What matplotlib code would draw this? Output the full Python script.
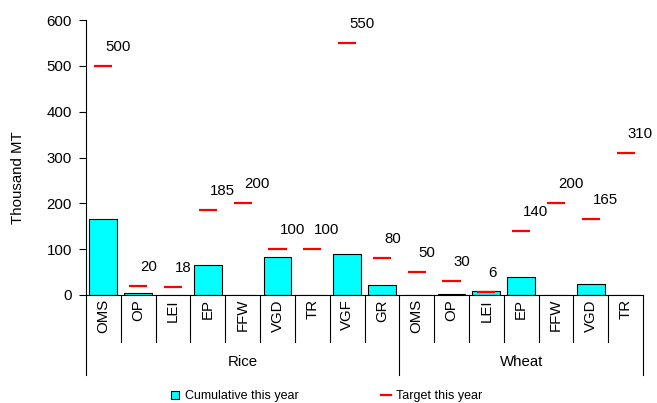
import numpy as np
import matplotlib
matplotlib.use('Agg')
import matplotlib.pyplot as plt
from matplotlib.lines import Line2D
from matplotlib.transforms import blended_transform_factory

plt.rcParams['font.family'] = ['Liberation Sans', 'DejaVu Sans']

# data
rice_cats = ['OMS', 'OP', 'LEI', 'EP', 'FFW', 'VGD', 'TR', 'VGF', 'GR']
wheat_cats = ['OMS', 'OP', 'LEI', 'EP', 'FFW', 'VGD', 'TR']
rice_cum = [166, 5, 0, 65, 0, 84, 0, 89, 21]
wheat_cum = [0, 2, 8, 39, 0, 23, 0]
rice_target = [500, 20, 18, 185, 200, 100, 100, 550, 80]
wheat_target = [50, 30, 6, 140, 200, 165, 310]
groups = ['Rice', 'Wheat']

cats = rice_cats + wheat_cats
cum = rice_cum + wheat_cum
target = rice_target + wheat_target
x = np.arange(len(cats))

fig = plt.figure(figsize=(6.57, 4.03), dpi=100)
ax = fig.add_axes([86/657, 1-295/403, (643-86)/657, (295-20)/403])

fs = 10.8
ax.bar(x, cum, width=0.8, color='#00FFFF', edgecolor='black', linewidth=0.8, zorder=2)
ax.hlines(target, x-0.26, x+0.26, colors='#FF0000', linewidth=1.6, zorder=3)
for xi, t in zip(x, target):
    ax.annotate(str(t), (xi, t), xytext=(2, 19), textcoords='offset pixels',
                ha='left', va='center', fontsize=fs)

ax.set_xlim(-0.5, len(cats)-0.5)
ax.set_ylim(0, 600)
ax.set_yticks(range(0, 601, 100))
ax.tick_params(axis='y', labelsize=fs, length=5, width=0.8, pad=5)
ax.set_xticks([])
for s in ['top', 'right']:
    ax.spines[s].set_visible(False)
ax.spines['left'].set_linewidth(0.8)
ax.spines['bottom'].set_linewidth(0.8)

# category table under the axis
tr = blended_transform_factory(ax.transData, fig.transFigure)
y_ax = 1-295/403
for i in range(len(cats)+1):
    xe = i - 0.5
    if i in (0, len(rice_cats), len(cats)):
        y_end = 1-375/403
    else:
        y_end = 1-342/403
    ax.add_line(Line2D([xe, xe], [y_ax, y_end], transform=tr, color='black',
                       linewidth=0.8, clip_on=False))
for xi, c in zip(x, cats):
    ax.text(xi, 1-299/403, c, transform=tr, rotation=90, ha='center', va='top', fontsize=fs)
ax.text((len(rice_cats)-1)/2, 1-362/403, groups[0], transform=tr, ha='center', va='center', fontsize=fs)
ax.text(len(rice_cats) + (len(wheat_cats)-1)/2, 1-362/403, groups[1], transform=tr,
        ha='center', va='center', fontsize=fs)

fig.text(18.5/657, 1-178/403, 'Thousand MT', rotation=90, ha='center', va='center', fontsize=fs)

handles = [Line2D([], [], marker='s', linestyle='none', markersize=5.5,
                  markerfacecolor='#00FFFF', markeredgecolor='black', markeredgewidth=0.8),
           Line2D([], [], color='#FF0000', linewidth=1.6)]
fig.legend(handles, ['Cumulative this year', 'Target this year'], ncol=2, loc='center',
           bbox_to_anchor=(326/657, 1-396/403), frameon=False, fontsize=9,
           handlelength=0.8, handletextpad=0.4, columnspacing=6.6)

fig.savefig('out.png', dpi=100)
